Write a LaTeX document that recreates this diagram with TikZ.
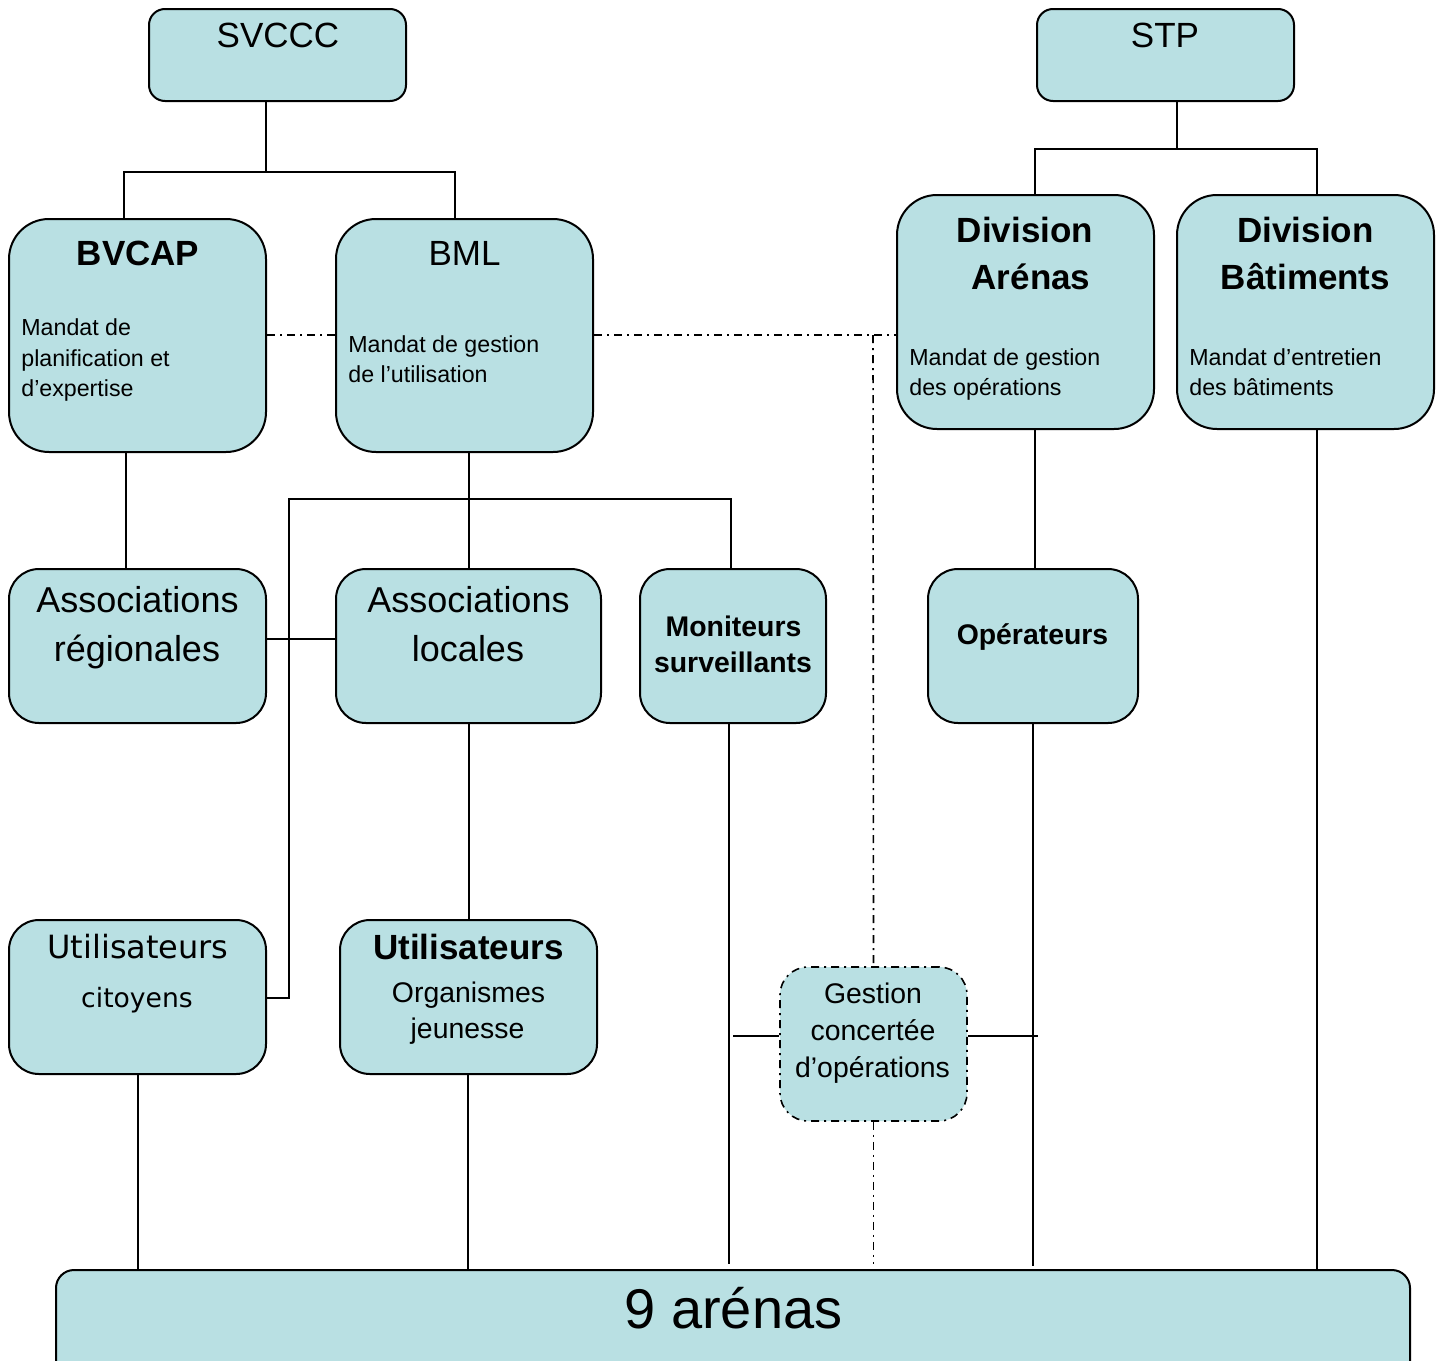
\documentclass[tikz,border=0pt]{standalone}
\usepackage{fontspec}
\setmainfont{Liberation Sans}
\newfontfamily\dvfont{DejaVu Sans}
\usetikzlibrary{fit,backgrounds}
\definecolor{boxfill}{RGB}{185,224,227}
\newcommand\fsz[1]{\fontsize{#1}{#1}\selectfont}
\begin{document}
\begin{tikzpicture}[x=0.5pt,y=-0.5pt,
  box/.style={draw=black,line width=1pt,fill=boxfill,inner sep=0pt,rounded corners=#1},
  box/.default=15pt,
  conn/.style={line width=1pt},
  ddline/.style={line width=0.8pt,dash pattern=on 4pt off 2.5pt on 1pt off 2.5pt},
  txt/.style={anchor=base,inner sep=0pt},
  ttl/.style={txt,font=\fsz{17.5}},
  ttlb/.style={txt,font=\fsz{17.5}\bfseries},
  asc/.style={txt,font=\fsz{18}},
  mid/.style={txt,font=\fsz{14.2}},
  midb/.style={txt,font=\fsz{14.2}\bfseries},
  ltxt/.style={anchor=base west,inner sep=0pt,font=\fsz{11.6}}]
\useasboundingbox (0,0) rectangle (1444,1360);
\clip (0,0) rectangle (1444,1360);

% boxes
\node[box=8pt, fit={(149,9)(406,101)}] (svccc) {};
\node[box=8pt, fit={(1037,9)(1294,101)}] (stp) {};
\node[box=20pt, fit={(9,219)(266,452)}] (bvcap) {};
\node[box=20pt, fit={(336,219)(593,452)}] (bml) {};
\node[box=20pt, fit={(897,195)(1154,429)}] (diva) {};
\node[box=20pt, fit={(1177,195)(1434,429)}] (divb) {};
\node[box, fit={(9,569)(266,723)}] (assocr) {};
\node[box, fit={(336,569)(601,723)}] (assocl) {};
\node[box, fit={(640,569)(826,723)}] (moni) {};
\node[box, fit={(928,569)(1138,723)}] (oper) {};
\node[box, fit={(9,920)(266,1074)}] (utilc) {};
\node[box, fit={(340,920)(597,1074)}] (utilj) {};
\node[box=14pt, ddline, fit={(780,967)(967,1121)}] (gest) {};
\node[box=9pt, fit={(56,1270)(1410,1420)}] (arenas) {};

% connectors
\begin{scope}[on background layer]
\coordinate (js) at (266,172);
\coordinate (jt) at (1177,149);
\coordinate (jb) at (469,499);
\coordinate (jl) at (289,499);
\draw[conn] (svccc.south -| js) -- (js);
\draw[conn] (bvcap.north -| 124,0) |- (js) -| (bml.north -| 455,0);
\draw[conn] (stp.south -| jt) -- (jt);
\draw[conn] (diva.north -| 1035,0) |- (jt) -| (divb.north -| 1317,0);
\draw[conn] (bvcap.south -| 126,0) -- (assocr.north -| 126,0);
\draw[conn] (bml.south -| jb) -- (assocl.north -| jb);
\draw[conn] (utilc.east |- 0,998) -| (jl) -| (moni.north -| 731,0);
\draw[conn] (assocr.east |- 0,639) -- (assocl.west |- 0,639);
\draw[conn] (assocl.south -| 469,0) -- (utilj.north -| 469,0);
\draw[conn] (moni.south -| 729,0) -- ([yshift=2.5pt]arenas.north -| 729,0);
\draw[conn] (diva.south -| 1035,0) -- (oper.north -| 1035,0);
\draw[conn] (oper.south -| 1033,0) -- ([yshift=1.5pt]arenas.north -| 1033,0);
\draw[conn] (divb.south -| 1317,0) -- (arenas.north -| 1317,0);
\draw[conn] (utilc.south -| 138,0) -- (arenas.north -| 138,0);
\draw[conn] (utilj.south -| 468,0) -- (arenas.north -| 468,0);
\draw[conn] (gest.west |- 733,1036) -- (733,1036);
\draw[conn] (gest.east |- 0,1036) -- (1038,1036);
\draw[ddline] (bvcap.east |- 0,335) -- (bml.west |- 0,335);
\draw[ddline] (bml.east |- 0,335) -- (diva.west |- 0,335);
\draw[ddline] (873,335) -- (gest.north);
\draw[ddline] (gest.south) -- ([yshift=2.5pt]arenas.north -| gest.south);
\end{scope}

% texts
\node[ttl] (t1) at (278,47) {SVCCC};
\node[ttl] (t2) at (1165,47) {STP};
\node[ttlb] (t3) at (138,265) {BVCAP};
\node[ltxt] (t4) at (21,335) {Mandat de};
\node[ltxt] (t5) at (21,366) {planification et};
\node[ltxt] (t6) at (21,396) {d’expertise};
\node[ttl] (t7) at (464.5,265) {BML};
\node[ltxt] (t8) at (348,352) {Mandat de gestion};
\node[ltxt] (t9) at (348,382) {de l’utilisation};
\node[ttlb] (t10) at (1025,242) {Division};
\node[ttlb] (t11) at (1031,289) {Arénas};
\node[ltxt] (t12) at (909,365) {Mandat de gestion};
\node[ltxt] (t13) at (909,395) {des opérations};
\node[ttlb] (t14) at (1305.5,242) {Division};
\node[ttlb] (t15) at (1305.5,289) {Bâtiments};
\node[ltxt] (t16) at (1189,365) {Mandat d’entretien};
\node[ltxt] (t17) at (1189,395) {des bâtiments};
\node[asc] (t18) at (137.5,612) {Associations};
\node[asc] (t19) at (137,661) {régionales};
\node[asc] (t20) at (468.5,612) {Associations};
\node[asc] (t21) at (468,661) {locales};
\node[midb] (t22) at (733.5,636) {Moniteurs};
\node[midb] (t23) at (733,672) {surveillants};
\node[midb] (t24) at (1032.5,644) {Opérateurs};
\node[txt,font=\dvfont\fsz{16}] (t25) at (138,958) {Utilisateurs};
\node[txt,font=\dvfont\fsz{13.3}] (t26) at (137,1007) {citoyens};
\node[ttlb] (t27) at (468.5,959) {Utilisateurs};
\node[mid] (t28) at (468.5,1002) {Organismes};
\node[mid] (t29) at (467.5,1038) {jeunesse};
\node[mid] (t30) at (873,1003) {Gestion};
\node[mid] (t31) at (873,1040) {concertée};
\node[mid] (t32) at (872.5,1077) {d’opérations};
\node[txt,font=\fsz{28}] (t33) at (733.5,1328) {9 arénas};
\end{tikzpicture}
\end{document}
